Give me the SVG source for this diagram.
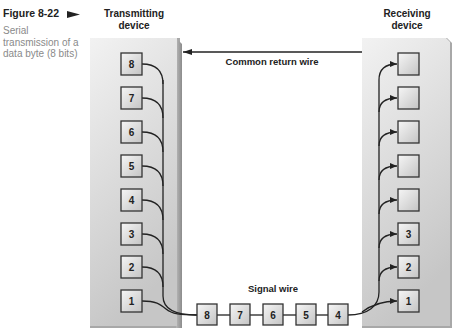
<svg xmlns="http://www.w3.org/2000/svg" width="453" height="330" viewBox="0 0 453 330">
<defs>
  <linearGradient id="panel" x1="0" y1="0" x2="0.3" y2="1">
    <stop offset="0" stop-color="#f2f2f2"/>
    <stop offset="1" stop-color="#c6c6c6"/>
  </linearGradient>
  <linearGradient id="side" x1="0" y1="0" x2="1" y2="0">
    <stop offset="0" stop-color="#b8b8b8"/>
    <stop offset="1" stop-color="#8c8c8c"/>
  </linearGradient>
  <linearGradient id="box" x1="0" y1="0" x2="1" y2="1">
    <stop offset="0" stop-color="#f6f6f6"/>
    <stop offset="1" stop-color="#c4c4c4"/>
  </linearGradient>
  <marker id="ah" markerWidth="8" markerHeight="8" refX="7" refY="4" orient="auto" markerUnits="userSpaceOnUse">
    <path d="M0,1 L7,4 L0,7 Z" fill="#222"/>
  </marker>
  <marker id="ahL" markerWidth="10" markerHeight="8" refX="9" refY="4" orient="auto" markerUnits="userSpaceOnUse">
    <path d="M0,1 L9,4 L0,7 Z" fill="#222"/>
  </marker>
</defs>
<style>
  .bx { fill: url(#box); stroke: #333; stroke-width: 1.3; }
  .num { font-family: "Liberation Sans", Arial, sans-serif; font-weight: bold; font-size: 10px; fill: #222; text-anchor: middle; }
  .ttl { font-family: "Liberation Sans", Arial, sans-serif; font-weight: bold; font-size: 10px; fill: #222; text-anchor: middle; }
  .lbl { font-family: "Liberation Sans", Arial, sans-serif; font-weight: bold; font-size: 9.5px; fill: #222; text-anchor: middle; }
  .cap { font-family: "Liberation Sans", Arial, sans-serif; font-size: 10px; fill: #8a8a8a; }
  .w { fill: none; stroke: #222; stroke-width: 1.3; }
</style>

<g id="caption">
  <text x="3" y="17" font-family="Liberation Sans, Arial, sans-serif" font-weight="bold" font-size="10.5" fill="#222">Figure 8-22</text>
  <path d="M67,11 L80,14.5 L67,18 Z" fill="#222"/>
  <text class="cap" x="3" y="34">Serial</text>
  <text class="cap" x="3" y="45.5">transmission of a</text>
  <text class="cap" x="3" y="57">data byte (8 bits)</text>
</g>

<g id="transmitting-device">
  <text class="ttl" x="134" y="17">Transmitting</text>
  <text class="ttl" x="134" y="29">device</text>
  <rect x="90" y="38" width="90" height="290" fill="#a8a8a8"/>
  <path d="M176,38 L182,44 L182,328 L176,328 Z" fill="url(#side)"/>
  <rect x="90" y="38" width="87" height="288" fill="url(#panel)"/>
</g>

<g id="receiving-device">
  <text class="ttl" x="407" y="17">Receiving</text>
  <text class="ttl" x="407" y="29">device</text>
  <path d="M362,38 L447,38 L452,43 L452,328 L362,328 Z" fill="#a8a8a8"/>
  <path d="M362,38 L446,38 L450,42 L450,326 L362,326 Z" fill="url(#panel)"/>
</g>

<g id="connectors">
  <!-- common return wire -->
  <line class="w" x1="362" y1="52" x2="183" y2="52" marker-end="url(#ahL)"/>
  <!-- left bus -->
  <path class="w" d="M142,64 C156,64 163,70 163,84"/>
  <path class="w" d="M142,98 C156,98 163,104 163,118"/>
  <path class="w" d="M142,132 C156,132 163,138 163,152"/>
  <path class="w" d="M142,166 C156,166 163,172 163,186"/>
  <path class="w" d="M142,200 C156,200 163,206 163,220"/>
  <path class="w" d="M142,234 C156,234 163,240 163,254"/>
  <path class="w" d="M142,267 C156,267 163,273 163,287"/>
  <path class="w" d="M163,80 L163,296 C163,309 176,315 197,315"/>
  <path class="w" d="M142,301 C156,301 160,304 166,309 C172,314 180,315 197,315"/>
  <!-- signal wire -->
  <line class="w" x1="217" y1="315" x2="230" y2="315"/>
  <line class="w" x1="250" y1="315" x2="263" y2="315"/>
  <line class="w" x1="283" y1="315" x2="296" y2="315"/>
  <line class="w" x1="316" y1="315" x2="328" y2="315"/>
  <!-- right bus -->
  <path class="w" d="M348,315 C368,315 379,306 379,292 L379,80"/>
  <path class="w" d="M362,312 C370,306 380,301 397,301" marker-end="url(#ah)"/>
  <path class="w" d="M379,281 C379,271 385,267 397,267" marker-end="url(#ah)"/>
  <path class="w" d="M379,248 C379,238 385,234 397,234" marker-end="url(#ah)"/>
  <path class="w" d="M379,214 C379,204 385,200 397,200" marker-end="url(#ah)"/>
  <path class="w" d="M379,180 C379,170 385,166 397,166" marker-end="url(#ah)"/>
  <path class="w" d="M379,146 C379,136 385,132 397,132" marker-end="url(#ah)"/>
  <path class="w" d="M379,112 C379,102 385,98 397,98" marker-end="url(#ah)"/>
  <path class="w" d="M379,80 C379,70 385,64 397,64" marker-end="url(#ah)"/>
  <text class="lbl" x="272" y="65">Common return wire</text>
  <text class="lbl" x="273" y="292">Signal wire</text>
</g>

<g id="tx-bits">
  <g id="tx8"><rect class="bx" x="121" y="53" width="21" height="22"/><text class="num" x="131.5" y="68">8</text></g>
  <g id="tx7"><rect class="bx" x="121" y="87" width="21" height="22"/><text class="num" x="131.5" y="102">7</text></g>
  <g id="tx6"><rect class="bx" x="121" y="121" width="21" height="22"/><text class="num" x="131.5" y="136">6</text></g>
  <g id="tx5"><rect class="bx" x="121" y="155" width="21" height="22"/><text class="num" x="131.5" y="170">5</text></g>
  <g id="tx4"><rect class="bx" x="121" y="189" width="21" height="22"/><text class="num" x="131.5" y="204">4</text></g>
  <g id="tx3"><rect class="bx" x="121" y="223" width="21" height="22"/><text class="num" x="131.5" y="238">3</text></g>
  <g id="tx2"><rect class="bx" x="121" y="256" width="21" height="22"/><text class="num" x="131.5" y="271">2</text></g>
  <g id="tx1"><rect class="bx" x="121" y="290" width="21" height="22"/><text class="num" x="131.5" y="305">1</text></g>
</g>

<g id="signal-bits">
  <g id="s8"><rect class="bx" x="197" y="304" width="20" height="21"/><text class="num" x="207" y="318.5">8</text></g>
  <g id="s7"><rect class="bx" x="230" y="304" width="20" height="21"/><text class="num" x="240" y="318.5">7</text></g>
  <g id="s6"><rect class="bx" x="263" y="304" width="20" height="21"/><text class="num" x="273" y="318.5">6</text></g>
  <g id="s5"><rect class="bx" x="296" y="304" width="20" height="21"/><text class="num" x="306" y="318.5">5</text></g>
  <g id="s4"><rect class="bx" x="328" y="304" width="20" height="21"/><text class="num" x="338" y="318.5">4</text></g>
</g>

<g id="rx-bits">
  <g id="rx8"><rect class="bx" x="398" y="53" width="21" height="22"/></g>
  <g id="rx7"><rect class="bx" x="398" y="87" width="21" height="22"/></g>
  <g id="rx6"><rect class="bx" x="398" y="121" width="21" height="22"/></g>
  <g id="rx5"><rect class="bx" x="398" y="155" width="21" height="22"/></g>
  <g id="rx4"><rect class="bx" x="398" y="189" width="21" height="22"/></g>
  <g id="rx3"><rect class="bx" x="398" y="223" width="21" height="22"/><text class="num" x="408.5" y="238">3</text></g>
  <g id="rx2"><rect class="bx" x="398" y="256" width="21" height="22"/><text class="num" x="408.5" y="271">2</text></g>
  <g id="rx1"><rect class="bx" x="398" y="290" width="21" height="22"/><text class="num" x="408.5" y="305">1</text></g>
</g>
</svg>
